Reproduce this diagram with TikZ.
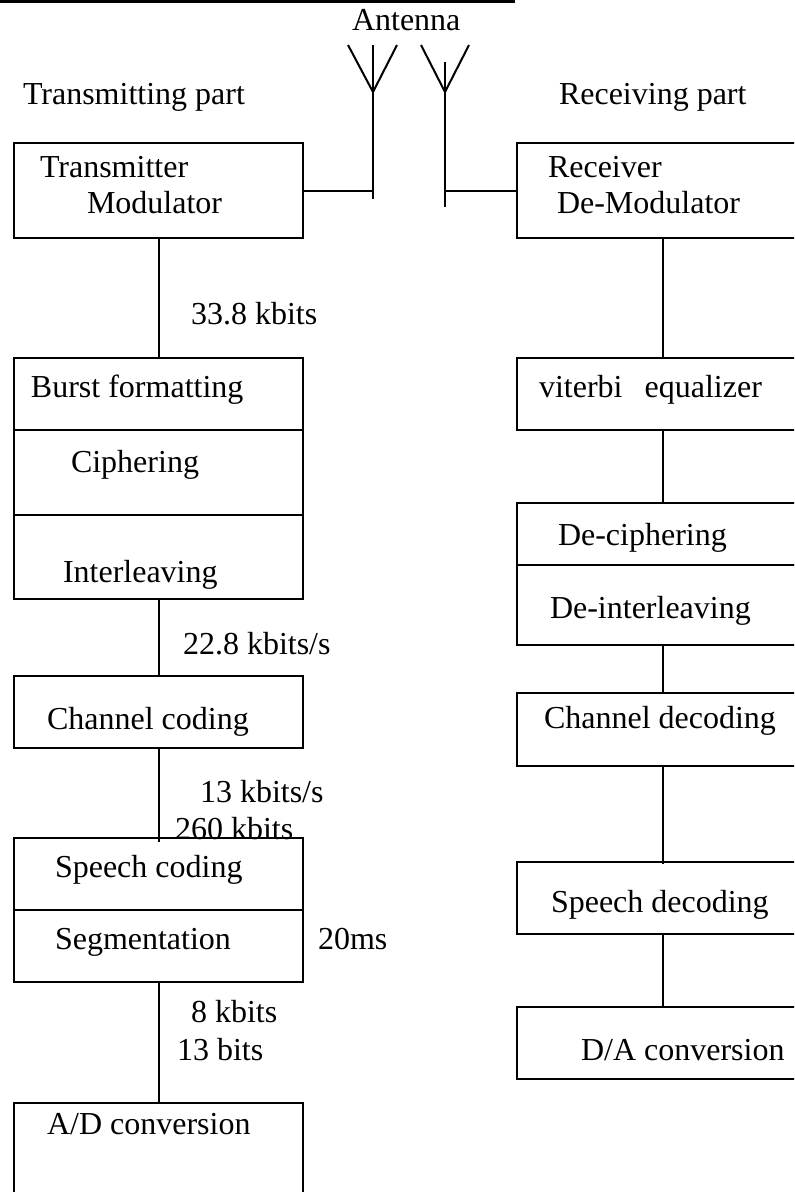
\documentclass[tikz,border=0pt]{standalone}
\usepackage{fontspec}
\setmainfont{Liberation Serif}
\begin{document}
\begin{tikzpicture}[x=0.75pt,y=-0.75pt,
  line width=1.5pt,
  box/.style={draw, line width=1.5pt, inner sep=0pt, anchor=north west},
  lbl/.style={inner sep=0pt, anchor=base west, font=\fontsize{24}{28}\selectfont},
  link/.style={line width=1.5pt}]
\useasboundingbox (0,0) rectangle (794,1192);
\clip (0,0) rectangle (794,1192);

% rule across the top
\coordinate (ruleA) at (0,1.5);
\coordinate (ruleB) at (515,1.5);
\draw (ruleA) -- (ruleB);

% headings
\node[lbl] (antlbl) at (351,31) {Antenna};
\node[lbl] (txlbl) at (22,104) {Transmitting part};
\node[lbl] (rxlbl) at (558,104) {Receiving part};

% transmitting chain (left column)
\node[box, minimum width=289*0.75pt, minimum height=95*0.75pt] (tm) at (13,142) {};
\node[box, minimum width=289*0.75pt, minimum height=72*0.75pt] (bf) at (13,357) {};
\node[box, minimum width=289*0.75pt, minimum height=85*0.75pt] (ci) at (13,429) {};
\node[box, minimum width=289*0.75pt, minimum height=84*0.75pt] (il) at (13,514) {};
\node[box, minimum width=289*0.75pt, minimum height=72*0.75pt] (cc) at (13,675) {};
\node[box, minimum width=289*0.75pt, minimum height=72*0.75pt] (sc) at (13,837) {};
\node[box, minimum width=289*0.75pt, minimum height=72*0.75pt] (sg) at (13,909) {};
\node[box, minimum width=289*0.75pt, minimum height=130*0.75pt] (ad) at (13,1102) {};

% receiving chain (right column)
\node[box, minimum width=292*0.75pt, minimum height=95*0.75pt] (rd) at (516,142) {};
\node[box, minimum width=292*0.75pt, minimum height=72*0.75pt] (ve) at (516,357) {};
\node[box, minimum width=292*0.75pt, minimum height=62*0.75pt] (dc) at (516,502) {};
\node[box, minimum width=292*0.75pt, minimum height=80*0.75pt] (di) at (516,564) {};
\node[box, minimum width=292*0.75pt, minimum height=73*0.75pt] (cd) at (516,692) {};
\node[box, minimum width=292*0.75pt, minimum height=72*0.75pt] (sd) at (516,861) {};
\node[box, minimum width=292*0.75pt, minimum height=72*0.75pt] (da) at (516,1006) {};

% box texts
\node[lbl] at (39,177) {Transmitter};
\node[lbl] at (86,213) {Modulator};
\node[lbl] at (30,397) {Burst formatting};
\node[lbl] at (70,472) {Ciphering};
\node[lbl] at (62,582) {Interleaving};
\node[lbl] at (46,729) {Channel coding};
\node[lbl] at (54,877) {Speech coding};
\node[lbl] at (54,949) {Segmentation};
\node[lbl] at (46,1134) {A/D conversion};

\node[lbl] at (547,177) {Receiver};
\node[lbl] at (556,213) {De-Modulator};
\node[lbl] at (538,397) {viterbi\hspace{0.69em}equalizer};
\node[lbl] at (557,545) {De-ciphering};
\node[lbl] at (549,618) {De-interleaving};
\node[lbl] at (543,728) {Channel decoding};
\node[lbl] at (550,912) {Speech decoding};
\node[lbl] at (580,1060) {D/A conversion};

% rate annotations
\node[lbl] at (190,324) {33.8 kbits};
\node[lbl] at (182,654) {22.8 kbits/s};
\node[lbl] at (199,802) {13 kbits/s};
\node[lbl] at (174,839) {260 kbits};
\node[lbl] at (317,949) {20ms};
\node[lbl] at (190,1022) {8 kbits};
\node[lbl] at (176,1060) {13 bits};

% antennas
\coordinate (apexL) at (373,92);
\coordinate (legL1) at (348,45);
\coordinate (legL2) at (397,45);
\coordinate (mastLtop) at (373,45);
\coordinate (mastLbot) at (373,199);
\coordinate (apexR) at (445,92);
\coordinate (legR1) at (421,45);
\coordinate (legR2) at (469,45);
\coordinate (mastRtop) at (445,62);
\coordinate (mastRbot) at (445,207);
\draw[link] (legL1) -- (apexL) -- (legL2);
\draw[link] (mastLtop) -- (mastLbot);
\draw[link] (legR1) -- (apexR) -- (legR2);
\draw[link] (mastRtop) -- (mastRbot);
\draw[link] (tm.east) -- (tm.east -| mastLbot);
\draw[link] (rd.west) -- (rd.west -| mastRbot);

% connectors, transmitting side
\draw[link] (tm.south) -- (bf.north);
\draw[link] (il.south) -- (cc.north);
\draw[link] (cc.south) -- ([yshift=-3.75pt]sc.north);
\draw[link] (sg.south) -- (ad.north);

% connectors, receiving side
\draw[link] (rd.south) -- (ve.north);
\draw[link] (ve.south) -- (dc.north);
\draw[link] (di.south) -- (cd.north);
\draw[link] (cd.south) -- ([yshift=-2.25pt]sd.north);
\draw[link] (sd.south) -- (da.north);
\end{tikzpicture}
\end{document}
